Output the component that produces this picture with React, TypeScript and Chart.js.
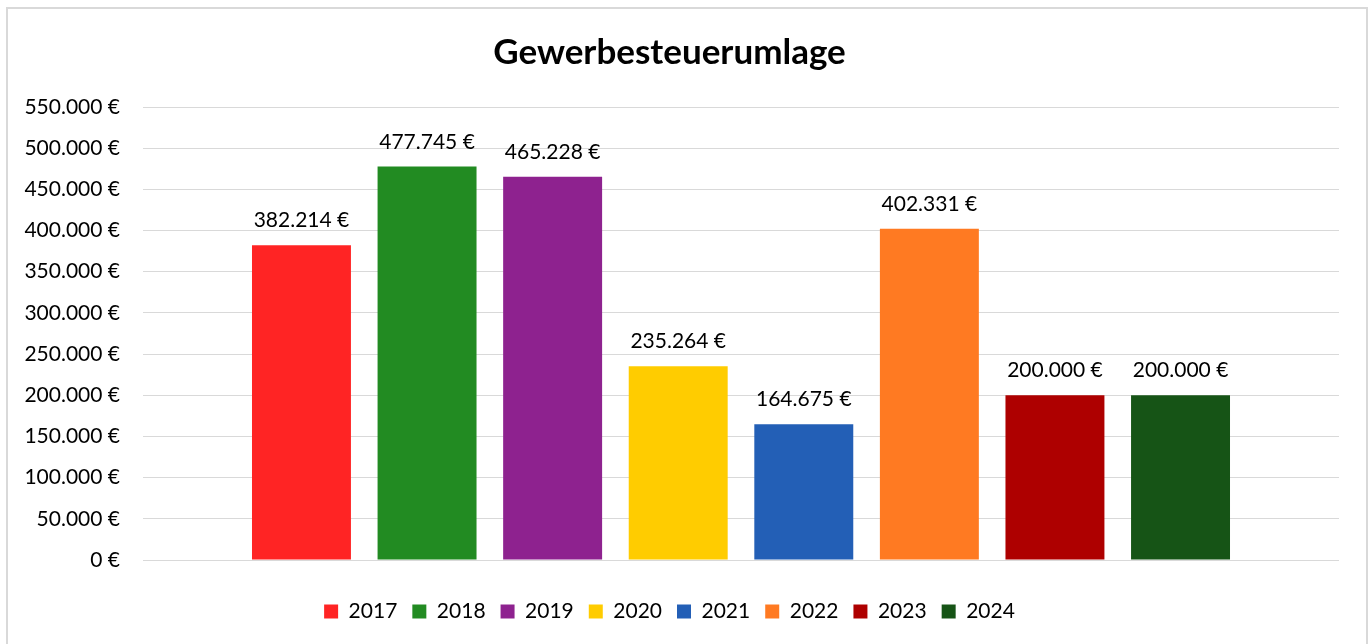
import React, { useEffect, useRef } from "react";
import { Chart, registerables } from "chart.js";

Chart.register(...registerables);

const title = "Gewerbesteuerumlage";
const years = ["2017", "2018", "2019", "2020", "2021", "2022", "2023", "2024"];
const values = [382214, 477745, 465228, 235264, 164675, 402331, 200000, 200000];
const colors = ["#FF2424", "#228B22", "#8E228F", "#FFCC00", "#235FB6", "#FF7A22", "#AE0000", "#165416"];
const categories = [""];

const FONT = "Lato, 'Liberation Sans', sans-serif";

const fmt = (v: number) => String(Math.round(v)).replace(/\B(?=(\d{3})+(?!\d))/g, ".") + " €";

const valueLabels = {
  id: "valueLabels",
  afterDatasetsDraw(chart: any) {
    const ctx = chart.ctx;
    ctx.save();
    ctx.font = `21px ${FONT}`;
    ctx.fillStyle = "#000000";
    ctx.textAlign = "center";
    ctx.textBaseline = "alphabetic";
    chart.data.datasets.forEach((ds: any, i: number) => {
      const meta = chart.getDatasetMeta(i);
      meta.data.forEach((el: any, j: number) => {
        ctx.fillText(fmt(ds.data[j]), el.x, el.y - 18);
      });
    });
    ctx.restore();
  },
};

export default function App() {
  const ref = useRef<HTMLCanvasElement>(null);
  useEffect(() => {
    document.body.style.overflow = "hidden";
    const chart = new Chart(ref.current!, {
      type: "bar",
      data: {
        labels: categories,
        datasets: years.map((y, i) => ({
          label: y,
          data: [values[i]],
          backgroundColor: colors[i],
          borderWidth: 0,
          categoryPercentage: 0.84,
          barPercentage: 0.788,
        })),
      },
      options: {
        responsive: false,
        animation: false,
        layout: { padding: { left: 0, right: 29, top: 0, bottom: 12 } },
        plugins: {
          title: {
            display: true,
            text: title,
            color: "#000000",
            font: { family: FONT, size: 35, weight: "bold" },
            padding: { top: 32, bottom: 33 },
          },
          legend: {
            position: "bottom",
            labels: {
              color: "#000000",
              font: { family: FONT, size: 21 },
              boxWidth: 14,
              boxHeight: 14,
              padding: 15,
            },
          },
          tooltip: { enabled: false },
        },
        scales: {
          x: {
            ticks: { display: false },
            grid: { display: false },
            border: { display: false },
            afterFit: (s: any) => {
              s.height = 26;
            },
          },
          y: {
            min: 0,
            max: 550000,
            ticks: {
              stepSize: 50000,
              color: "#000000",
              font: { family: FONT, size: 21 },
              padding: 23,
              callback: (v: any) => fmt(Number(v)),
            },
            grid: { color: "#d9d9d9", lineWidth: 1, drawTicks: false },
            border: { display: false },
            afterFit: (s: any) => {
              s.width = 143;
            },
          },
        },
      },
      plugins: [valueLabels],
    });
    return () => chart.destroy();
  }, []);
  return (
    <div>
      <div
        style={{
          position: "fixed",
          left: 6,
          top: 7,
          width: 1362,
          height: 700,
          border: "2px solid #d9d9d9",
          boxSizing: "border-box",
        }}
      />
      <canvas
        ref={ref}
        width={1368}
        height={644}
        style={{ position: "fixed", left: 0, top: 0, width: 1368, height: 644 }}
      />
    </div>
  );
}
